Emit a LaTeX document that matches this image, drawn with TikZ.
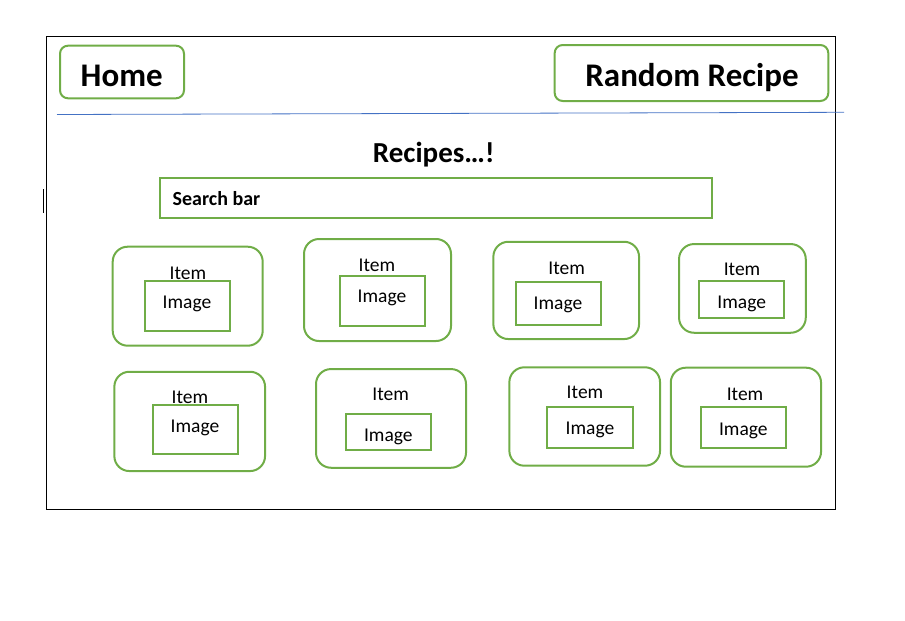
\documentclass[tikz,border=0pt]{standalone}
\usepackage{fontspec}
\setmainfont{Carlito}
\usetikzlibrary{positioning}
\definecolor{boxgreen}{HTML}{70AD47}
\definecolor{lineblue}{HTML}{4472C4}

\begin{document}
\begin{tikzpicture}[x=1pt,y=-1pt,
  navbtn/.style={draw=boxgreen,line width=2pt,rounded corners=8pt,inner sep=0pt},
  itembox/.style={draw=boxgreen,line width=2pt,rounded corners=15pt,inner sep=0pt},
  imgbox/.style={draw=boxgreen,line width=2pt,inner sep=0pt},
  lbl/.style={anchor=base,inner sep=0pt,font=\fontsize{19.5}{23}\selectfont}]
  \useasboundingbox (0,0) rectangle (905,621);
  % page frame
  \draw[black,line width=0.8pt] (46.5,36) rectangle (835,509.3);
  \draw[black,line width=0.8pt] (43,189) -- (43,213);
  % header
  \node[navbtn,minimum width=124pt,minimum height=52.6pt] (home) at (122,72){};
  \node[anchor=base,inner sep=0pt,font=\bfseries\fontsize{33}{38}\selectfont] (hometxt) at (121.7,86.7){Home};
  \node[navbtn,minimum width=273.6pt,minimum height=56pt] (random) at (691.5,73){};
  \node[anchor=base,inner sep=0pt,font=\bfseries\fontsize{33}{38}\selectfont] (randomtxt) at (692,86){Random Recipe};
  \coordinate (sepL) at (57,114.5);
  \coordinate (sepR) at (844,112.3);
  \draw[lineblue,line width=0.8pt] (sepL) -- (sepR);
  % title and search
  \node[anchor=base,inner sep=0pt,font=\bfseries\fontsize{29}{34}\selectfont] (title) at (433.7,162.3){Recipes…!};
  \node[imgbox,minimum width=552pt,minimum height=40pt] (search) at (436,197.7){};
  \node[anchor=base west,inner sep=0pt,font=\bfseries\fontsize{20}{24}\selectfont] (searchtxt) at (172.5,205){Search bar};
  % row 1
  \node[itembox,minimum width=150pt,minimum height=99pt] (item1) at (187.7,296.2){};
  \node[lbl] (item1txt) at (188,279){Item};
  \node[imgbox,minimum width=85.3pt,minimum height=50.3pt] (img1) at (187.4,305.9){};
  \node[lbl] (img1txt) at (187,308){Image};
  \node[itembox,minimum width=147pt,minimum height=102pt] (item2) at (377.5,290){};
  \node[lbl] (item2txt) at (377,271){Item};
  \node[imgbox,minimum width=85.3pt,minimum height=49.7pt] (img2) at (382.4,300.9){};
  \node[lbl] (img2txt) at (382,302){Image};
  \node[itembox,minimum width=145.7pt,minimum height=97.3pt] (item3) at (566.2,290.4){};
  \node[lbl] (item3txt) at (566.7,274){Item};
  \node[imgbox,minimum width=85.3pt,minimum height=43pt] (img3) at (558.4,303.5){};
  \node[lbl] (img3txt) at (558,309){Image};
  \node[itembox,minimum width=126.7pt,minimum height=88.7pt] (item4) at (742.4,288.4){};
  \node[lbl] (item4txt) at (742,275){Item};
  \node[imgbox,minimum width=85.6pt,minimum height=37pt] (img4) at (741.5,299.2){};
  \node[lbl] (img4txt) at (741.7,308){Image};
  % row 2
  \node[itembox,minimum width=150.7pt,minimum height=99.3pt] (item5) at (189.7,421.4){};
  \node[lbl] (item5txt) at (190,403.5){Item};
  \node[imgbox,minimum width=85pt,minimum height=49.3pt] (img5) at (195.2,429.7){};
  \node[lbl] (img5txt) at (195,432.3){Image};
  \node[itembox,minimum width=150pt,minimum height=98.7pt] (item6) at (391,418.4){};
  \node[lbl] (item6txt) at (390.7,400.5){Item};
  \node[imgbox,minimum width=85.3pt,minimum height=35.7pt] (img6) at (388.4,431.9){};
  \node[lbl] (img6txt) at (388.3,441){Image};
  \node[itembox,minimum width=150.7pt,minimum height=98.4pt] (item7) at (584.7,416.5){};
  \node[lbl] (item7txt) at (585,398.5){Item};
  \node[imgbox,minimum width=85.4pt,minimum height=41pt] (img7) at (590,427.2){};
  \node[lbl] (img7txt) at (590,434){Image};
  \node[itembox,minimum width=150.3pt,minimum height=99pt] (item8) at (745.9,417.2){};
  \node[lbl] (item8txt) at (745,400.5){Item};
  \node[imgbox,minimum width=85.3pt,minimum height=40.4pt] (img8) at (743.4,427.5){};
  \node[lbl] (img8txt) at (743.3,435){Image};
\end{tikzpicture}
\end{document}
